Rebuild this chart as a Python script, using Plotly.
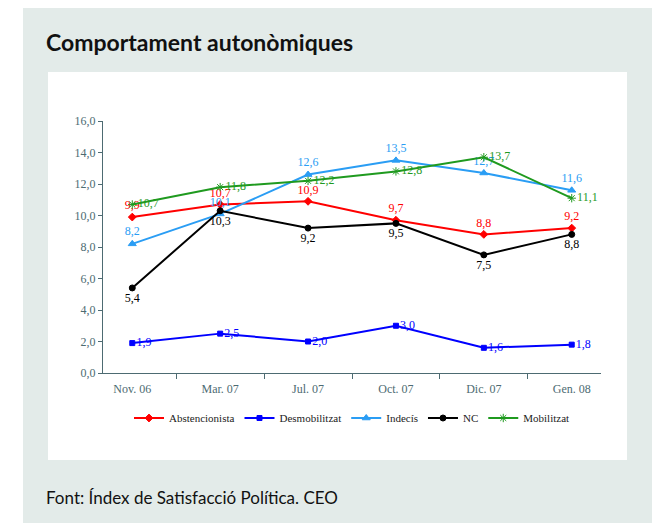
import plotly.graph_objs as go

# survey waves
waves = ["Nov. 06", "Mar. 07", "Jul. 07", "Oct. 07", "Dic. 07", "Gen. 08"]

abstencionista = [9.9, 10.7, 10.9, 9.7, 8.8, 9.2]
desmobilitzat = [1.9, 2.5, 2.0, 3.0, 1.6, 1.8]
indecis = [8.2, 10.1, 12.6, 13.5, 12.7, 11.6]
nc = [5.4, 10.3, 9.2, 9.5, 7.5, 8.8]
mobilitzat = [10.7, 11.8, 12.2, 12.8, 13.7, 11.1]

AXIS_COL = "#4d6b72"
SERIF = "Liberation Serif, DejaVu Serif, serif"
OFF = 8  # page body margin


def lbl(vals):
    return ["{:.1f}".format(v).replace(".", ",") for v in vals]


series = [
    ("Abstencionista", abstencionista, "#ff0000", "diamond", 6, "top center"),
    ("Desmobilitzat", desmobilitzat, "#0000ff", "square", 5, "middle right"),
    ("Indecís", indecis, "#2a9df4", "triangle-up", 7, "top center"),
    ("NC", nc, "#000000", "circle", 6, "bottom center"),
    ("Mobilitzat", mobilitzat, "#1f9a1f", "asterisk-open", 7, "middle right"),
]

fig = go.Figure()
for name, vals, col, sym, sz, pos in series:
    fig.add_trace(go.Scatter(
        x=waves, y=vals, name=name,
        mode="lines+markers+text",
        text=lbl(vals), textposition=pos,
        textfont=dict(color=col, size=12, family=SERIF),
        line=dict(color=col, width=2),
        marker=dict(symbol=sym, size=sz, color=col, line=dict(color=col, width=1)),
        cliponaxis=False,
    ))

# window pixel -> paper helpers (plot area 103..601 x, 121..373 y in the window)
def px(x):
    return (x - 103) / 498.0


def py(y):
    return (373 - y) / 252.0


shapes = [
    dict(type="rect", xref="paper", yref="paper", layer="below",
         x0=px(23), x1=px(658), y0=py(560), y1=py(7),
         fillcolor="#e3ebe9", line=dict(width=0)),
    dict(type="rect", xref="paper", yref="paper", layer="below",
         x0=px(48), x1=px(627), y0=py(460), y1=py(72),
         fillcolor="#ffffff", line=dict(width=0)),
]

annotations = [
    dict(text="<b>Comportament autonòmiques</b>", xref="paper", yref="paper",
         x=px(44), y=py(42), xanchor="left", yanchor="middle", showarrow=False,
         font=dict(family="Lato, Open Sans, sans-serif", size=23, color="#111111")),
    dict(text="Font: Índex de Satisfacció Política. CEO", xref="paper", yref="paper",
         x=px(44), y=py(497), xanchor="left", yanchor="middle", showarrow=False,
         font=dict(family="Lato, Open Sans, sans-serif", size=17, color="#111111")),
]

fig.update_layout(
    width=660, height=523,
    margin=dict(l=103 - OFF, r=660 - 601 + OFF, t=121 - OFF, b=523 - 373 + OFF),
    paper_bgcolor="#ffffff",
    plot_bgcolor="rgba(0,0,0,0)",
    separators=",.",
    shapes=shapes,
    annotations=annotations,
    showlegend=True,
    legend=dict(orientation="h", x=0.5, xanchor="center", y=py(418), yanchor="middle",
                font=dict(family=SERIF, size=11, color="#222222"),
                bgcolor="rgba(0,0,0,0)", itemwidth=30, tracegroupgap=0),
    xaxis=dict(type="category", showgrid=False, zeroline=False,
               showline=True, linecolor=AXIS_COL, linewidth=1,
               ticks="outside", tickson="boundaries", ticklen=5, tickcolor=AXIS_COL,
               ticklabelstandoff=5,
               tickfont=dict(family=SERIF, size=12, color=AXIS_COL)),
    yaxis=dict(range=[0, 16], dtick=2, tickformat=".1f", showgrid=False, zeroline=False,
               showline=True, linecolor=AXIS_COL, linewidth=1,
               ticks="outside", ticklen=4, tickcolor=AXIS_COL,
               tickfont=dict(family=SERIF, size=12, color=AXIS_COL)),
)

fig.write_html("out.html")
